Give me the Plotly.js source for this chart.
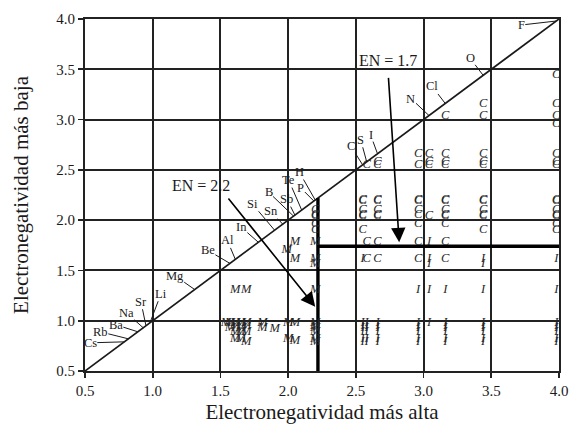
<!DOCTYPE html>
<html>
<head>
<meta charset="utf-8">
<script src="https://cdn.plot.ly/plotly-3.0.1.min.js"></script>
<style>
  html, body { margin: 0; padding: 0; background: #fff; }
  #chart { width: 571px; height: 428px; }
</style>
</head>
<body>
<div id="chart"></div>
<script>
// Pauling electronegativities of the elements marked along the diagonal
const elements = ['Cs','Rb','Ba','Na','Sr','Li','Mg','Be','Al','In','Si','Sn','B','Sb','Te','H','P','C','S','I','N','Cl','O','F'];
const electroneg = [0.79,0.82,0.89,0.93,0.95,0.98,1.31,1.57,1.61,1.78,1.90,1.96,2.04,2.05,2.10,2.20,2.19,2.55,2.58,2.66,3.04,3.16,3.44,3.98];

// Bond type of binary pairs: x = higher EN, y = lower EN
const covalentX = [
  3.98,3.98,3.98,3.98,3.98,3.98,3.98,3.98,3.98,3.98,3.98,3.98,3.98,3.98,
  3.44,3.44,3.44,3.44,3.44,3.44,3.44,3.44,3.44,3.44,3.44,
  3.16,3.16,3.16,3.16,3.16,3.16,3.16,3.16,3.16,3.16,3.16,3.16,
  3.04,3.04,3.04,3.04,
  2.96,2.96,2.96,2.96,2.96,2.96,2.96,2.96,2.96,
  2.66,2.66,2.66,2.66,2.66,2.66,2.66,2.66,2.66,
  2.58,2.58,2.58,
  2.55,2.55,2.55,2.55,2.55,2.55,
  2.20,2.20,2.20,2.20,2.20
];
const covalentY = [
  3.44,3.16,3.04,2.96,2.66,2.58,2.55,2.20,2.19,2.10,2.05,2.04,1.96,1.90,
  3.16,3.04,2.66,2.58,2.55,2.20,2.19,2.10,2.05,2.04,1.90,
  3.04,2.66,2.58,2.55,2.20,2.19,2.10,2.05,2.04,1.96,1.78,1.61,
  2.66,2.58,2.55,2.04,
  2.66,2.55,2.20,2.19,2.10,2.05,1.96,1.78,1.61,
  2.58,2.55,2.20,2.19,2.10,2.05,2.04,1.78,1.61,
  2.55,1.78,1.61,
  2.20,2.19,2.10,2.05,2.04,1.90,
  2.10,2.05,2.04,1.96,1.90
];
const ionicX = [
  3.98,3.98,3.98,3.98,3.98,3.98,3.98,3.98,
  3.44,3.44,3.44,3.44,3.44,3.44,3.44,3.44,3.44,
  3.16,3.16,3.16,3.16,3.16,3.16,3.16,
  3.04,3.04,3.04,3.04,3.04,
  2.96,2.96,2.96,2.96,2.96,2.96,2.96,
  2.66,2.66,2.66,2.66,2.66,2.66,
  2.58,2.58,2.58,2.58,2.58,2.58,
  2.55,2.55,2.55,2.55,2.55,2.55,2.55
];
const ionicY = [
  1.61,1.31,0.98,0.95,0.93,0.89,0.82,0.79,
  1.61,1.57,1.31,0.98,0.95,0.93,0.89,0.82,0.79,
  1.31,0.98,0.95,0.93,0.89,0.82,0.79,
  1.78,1.61,1.57,1.31,0.98,
  1.31,0.98,0.95,0.93,0.89,0.82,0.79,
  0.98,0.95,0.93,0.89,0.82,0.79,
  0.98,0.95,0.93,0.89,0.82,0.79,
  1.61,0.98,0.95,0.93,0.89,0.82,0.79
];
const metallicX = [
  2.20,2.20,2.20,2.20,2.20,2.20,2.20,2.20,2.20,2.20,
  2.05,2.05,1.99,1.61,1.69,
  1.54,1.57,1.57,1.61,1.61,1.61,1.61,1.65,1.65,1.65,1.65,
  1.69,1.69,1.69,1.69,1.81,1.81,1.90,2.00,2.00,2.05,2.05
];
const metallicY = [
  1.78,1.61,1.57,1.31,0.98,0.95,0.93,0.89,0.82,0.79,
  1.78,1.61,1.70,1.31,1.31,
  0.98,0.98,0.93,0.98,0.95,0.89,0.82,0.98,0.93,0.89,0.82,
  0.98,0.95,0.89,0.79,0.98,0.93,0.92,0.98,0.82,0.98,0.80
];

// Boundaries drawn as heavy lines
const boundaryEN = 2.22;   // vertical cut on the high-EN axis
const boundaryLow = 1.74;  // horizontal cut on the low-EN axis
const axisMin = 0.5, axisMax = 4.0;

const serif = 'Liberation Serif, Times New Roman, serif';
const ink = '#1a1a1a';

function letterTrace(xs, ys, letter) {
  return {
    type: 'scatter', mode: 'text', x: xs, y: ys,
    text: xs.map(() => letter),
    textposition: 'middle center',
    textfont: { family: serif, size: 12.5, color: '#262626', style: 'italic' },
    hoverinfo: 'skip', showlegend: false, cliponaxis: false
  };
}

const traces = [
  { type: 'scatter', mode: 'lines', x: [axisMin, axisMax], y: [axisMin, axisMax],
    line: { color: ink, width: 1.7 }, hoverinfo: 'skip', showlegend: false },
  { type: 'scatter', mode: 'lines', x: [boundaryEN, boundaryEN], y: [axisMin, boundaryEN],
    line: { color: '#000', width: 3.4 }, hoverinfo: 'skip', showlegend: false },
  { type: 'scatter', mode: 'lines', x: [boundaryEN, axisMax], y: [boundaryLow, boundaryLow],
    line: { color: '#000', width: 3.4 }, hoverinfo: 'skip', showlegend: false },
  letterTrace(covalentX, covalentY, 'C'),
  letterTrace(ionicX, ionicY, 'I'),
  letterTrace(metallicX, metallicY, 'M')
];

// Pixel offsets of each element tag from its point on the diagonal
const tagOffsets = {
  Cs: [-34, 1], Rb: [-28, -7], Ba: [-22, -7], Na: [-17, -15], Sr: [-5, -24], Li: [11, -29],
  Mg: [-20, -14], Be: [-22, -13], Al: [-8, -19], In: [-17, -15], Si: [-22, -26], Sn: [-12, -13],
  B: [-25, -24], Sb: [-8, -16], Te: [-13, -30], H: [-16, -28], P: [-13, -13],
  C: [-12, -19], S: [-6, -22], I: [-7, -19], N: [-18, -17], Cl: [-13, -17], O: [-13, -17], F: [-35, 4]
};

const annotations = elements.map((el, i) => ({
  x: electroneg[i], y: electroneg[i], xref: 'x', yref: 'y',
  text: el, showarrow: true, arrowhead: 0, arrowwidth: 1, arrowcolor: ink,
  ax: tagOffsets[el][0], ay: tagOffsets[el][1], standoff: 0, borderpad: 0,
  font: { family: serif, size: 12.5, color: ink }
}));

// Difference-threshold callouts
annotations.push(
  { x: 2.2, y: 1.14, ax: 1.55, ay: 2.23, axref: 'x', ayref: 'y', xref: 'x', yref: 'y',
    text: '', showarrow: true, arrowhead: 2, arrowsize: 1.8, arrowwidth: 1.6, arrowcolor: '#000', standoff: 0 },
  { x: 2.82, y: 1.78, ax: 2.74, ay: 3.43, axref: 'x', ayref: 'y', xref: 'x', yref: 'y',
    text: '', showarrow: true, arrowhead: 2, arrowsize: 1.8, arrowwidth: 1.6, arrowcolor: '#000', standoff: 0 },
  { x: 1.36, y: 2.34, xref: 'x', yref: 'y', text: 'EN = 2.2', showarrow: false,
    font: { family: serif, size: 16, color: ink } },
  { x: 2.74, y: 3.59, xref: 'x', yref: 'y', text: 'EN = 1.7', showarrow: false,
    font: { family: serif, size: 16, color: ink } }
);

const axisCommon = {
  range: [axisMin, axisMax], dtick: 0.5, tick0: 0.5, tickformat: '.1f',
  showgrid: true, gridcolor: '#222', gridwidth: 2,
  showline: true, linecolor: '#222', linewidth: 2, mirror: true,
  ticks: 'outside', ticklen: 5, tickwidth: 1.6, tickcolor: '#222',
  zeroline: false, fixedrange: true,
  tickfont: { family: serif, size: 15, color: ink }
};

const layout = {
  width: 571, height: 428,
  margin: { l: 85, r: 12, t: 19, b: 57 },
  paper_bgcolor: '#fff', plot_bgcolor: '#fff',
  showlegend: false,
  xaxis: Object.assign({}, axisCommon, {
    title: { text: 'Electronegatividad más alta', font: { family: serif, size: 21, color: ink }, standoff: 6 }
  }),
  yaxis: Object.assign({}, axisCommon, {
    title: { text: 'Electronegatividad más baja', font: { family: serif, size: 21, color: ink }, standoff: 22 }
  }),
  annotations: annotations
};

Plotly.newPlot('chart', traces, layout, { displayModeBar: false, staticPlot: true });
</script>
</body>
</html>
